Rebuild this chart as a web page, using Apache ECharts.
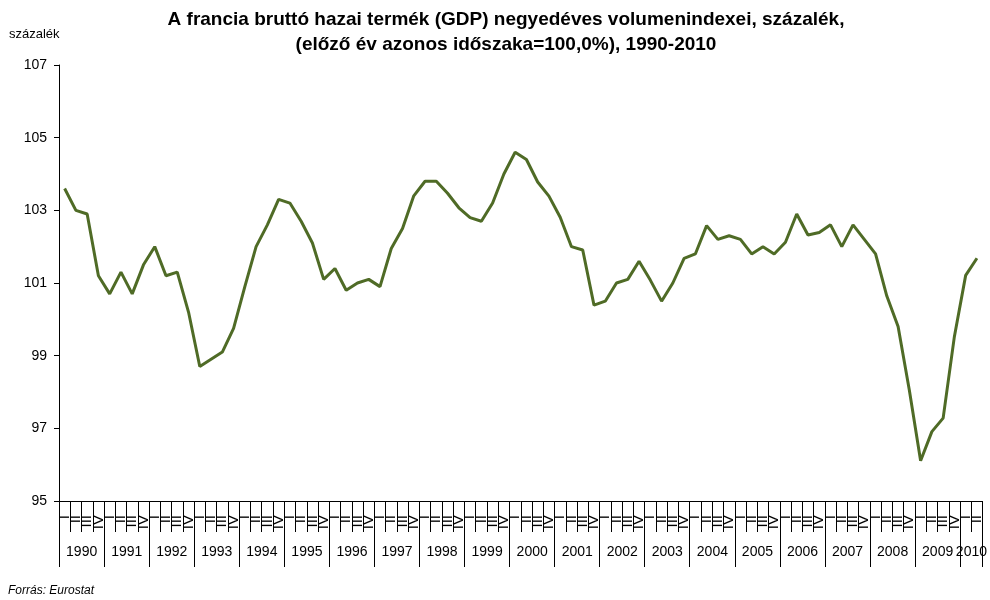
<!DOCTYPE html>
<html>
<head>
<meta charset="utf-8">
<script src="https://cdn.jsdelivr.net/npm/echarts@6/dist/echarts.min.js"></script>
<style>html,body{margin:0;padding:0;background:#fff;}#c{width:990px;height:600px;}</style>
</head>
<body>
<div id="c"></div>
<script>
const years = ['1990','1991','1992','1993','1994','1995','1996','1997','1998','1999','2000',
  '2001','2002','2003','2004','2005','2006','2007','2008','2009','2010'];
const quarterNames = ['I','II','III','IV'];
const gdp = [
  103.6, 103.0, 102.9, 101.2,
  100.7, 101.3, 100.7, 101.5,
  102.0, 101.2, 101.3, 100.2,
  98.7, 98.9, 99.1, 99.75,
  100.9, 102.0, 102.6, 103.3,
  103.2, 102.7, 102.1, 101.1,
  101.4, 100.8, 101.0, 101.1,
  100.9, 101.95, 102.5, 103.4,
  103.8, 103.8, 103.47, 103.07,
  102.8, 102.7, 103.2, 104.0,
  104.6, 104.4, 103.78, 103.39,
  102.81, 102.0, 101.91, 100.39,
  100.5, 101.0, 101.1, 101.6,
  101.08, 100.5, 101.0, 101.68,
  101.8, 102.58, 102.2, 102.3,
  102.2, 101.8, 102.0, 101.8,
  102.12, 102.9, 102.32, 102.39,
  102.6, 102.0, 102.6, 102.2,
  101.8, 100.64, 99.8, 98.05,
  96.11, 96.91, 97.28, 99.53,
  101.21, 101.68
];
const yTicks = { min: 95, max: 107, interval: 2 };
const titleText = 'A francia bruttó hazai termék (GDP) negyedéves volumenindexei, százalék,\n(előző év azonos időszaka=100,0%), 1990-2010';

const categories = gdp.map((v, i) => years[Math.floor(i / 4)] + ' ' + quarterNames[i % 4]);
const lastIdx = gdp.length - 1;
const lastYearStart = Math.floor(lastIdx / 4) * 4;

const chart = echarts.init(document.getElementById('c'), null, { renderer: 'canvas' });
const font = 'Arial, "Liberation Sans", sans-serif';
chart.setOption({
  animation: false,
  backgroundColor: '#ffffff',
  graphic: [
    { type: 'text', x: 506, y: 7, style: { text: titleText, font: 'bold 19px ' + font, fill: '#000', align: 'center', lineHeight: 25 } },
    { type: 'text', left: 9, top: 28, style: { text: 'százalék', font: '13px ' + font, fill: '#000' } },
    { type: 'text', left: 8, top: 585, style: { text: 'Forrás: Eurostat', font: 'italic 12px ' + font, fill: '#000' } }
  ],
  grid: { left: 59, right: 7, top: 65, bottom: 99, containLabel: false },
  xAxis: [
    {
      type: 'category',
      data: categories,
      boundaryGap: true,
      axisLine: { show: true, lineStyle: { color: '#000', width: 1 } },
      axisTick: { show: true, interval: 0, length: 31, lineStyle: { color: '#000', width: 1 } },
      axisLabel: {
        interval: 0, rotate: 90, margin: 14,
        formatter: v => v.split(' ')[1],
        fontFamily: font, fontSize: 15, color: '#000'
      },
      splitLine: { show: false }
    },
    {
      type: 'category',
      data: categories,
      position: 'bottom',
      boundaryGap: true,
      axisLine: { show: false },
      axisTick: { show: true, interval: (i) => i % 4 === 0, length: 66, lineStyle: { color: '#000', width: 1 } },
      axisLabel: {
        interval: (i) => (i % 4 === 2 && i < lastYearStart) || i === lastYearStart + 1,
        formatter: v => v.split(' ')[0],
        padding: [0, 11, 0, 0],
        margin: 44,
        fontFamily: font, fontSize: 14, color: '#000'
      },
      splitLine: { show: false }
    }
  ],
  yAxis: {
    type: 'value',
    min: yTicks.min, max: yTicks.max, interval: yTicks.interval,
    axisLine: { show: true, lineStyle: { color: '#000', width: 1 } },
    axisTick: { show: true, length: 5, lineStyle: { color: '#000' } },
    axisLabel: { fontFamily: font, fontSize: 14, color: '#000', margin: 12 },
    splitLine: { show: false }
  },
  series: [{
    type: 'line',
    xAxisIndex: 0,
    data: gdp,
    symbol: 'none',
    lineStyle: { color: '#4f6b26', width: 3 },
    itemStyle: { color: '#4f6b26' }
  }]
});
</script>
</body>
</html>
